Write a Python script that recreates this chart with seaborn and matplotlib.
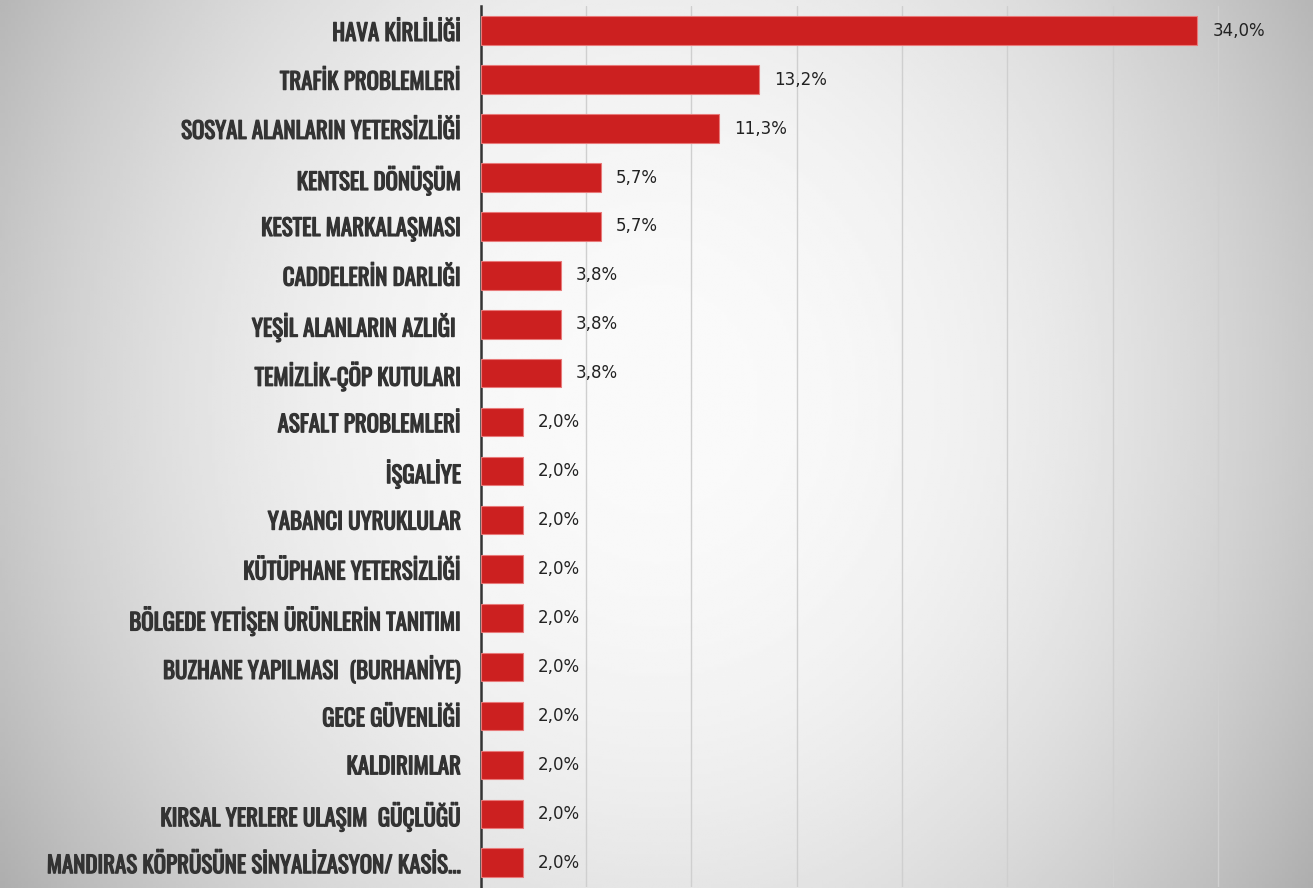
import matplotlib.pyplot as plt
import matplotlib.patheffects as pe
import numpy as np
import pandas as pd
import seaborn as sns

# data
sorunlar = [
    "HAVA KİRLİLİĞİ",
    "TRAFİK PROBLEMLERİ",
    "SOSYAL ALANLARIN YETERSİZLİĞİ",
    "KENTSEL DÖNÜŞÜM",
    "KESTEL MARKALAŞMASI",
    "CADDELERİN DARLIĞI",
    "YEŞİL ALANLARIN AZLIĞI ",
    "TEMİZLİK-ÇÖP KUTULARI",
    "ASFALT PROBLEMLERİ",
    "İŞGALİYE",
    "YABANCI UYRUKLULAR",
    "KÜTÜPHANE YETERSİZLİĞİ",
    "BÖLGEDE YETİŞEN ÜRÜNLERİN TANITIMI",
    "BUZHANE YAPILMASI  (BURHANİYE)",
    "GECE GÜVENLİĞİ",
    "KALDIRIMLAR",
    "KIRSAL YERLERE ULAŞIM  GÜÇLÜĞÜ",
    "MANDIRAS KÖPRÜSÜNE SİNYALİZASYON/ KASİS...",
]
oranlar = [34.0, 13.2, 11.3, 5.7, 5.7, 3.8, 3.8, 3.8,
           2.0, 2.0, 2.0, 2.0, 2.0, 2.0, 2.0, 2.0, 2.0, 2.0]

df = pd.DataFrame({"Sorun": sorunlar, "Oran": oranlar})

sns.set_theme(style="white")
# narrow font for the category names, with fallbacks
etiket_fontu = ["Oswald", "Antonio", "Roboto Condensed", "Archivo Narrow", "DejaVu Sans"]
plt.rcParams["font.family"] = ["DejaVu Sans"]

fig = plt.figure(figsize=(13.13, 8.88), dpi=100)

# soft grey radial background
bg = fig.add_axes([0, 0, 1, 1], zorder=-1)
xx, yy = np.meshgrid(np.linspace(-1, 1, 400), np.linspace(-1, 1, 300))
r = np.sqrt(xx ** 2 + ((yy + 0.1) * 0.6) ** 2)
bg.imshow(0.98 - 0.2 * np.clip(r, 0, 1.2) ** 2.2, cmap="gray", vmin=0, vmax=1,
          aspect="auto", extent=[0, 1, 0, 1])
bg.axis("off")

ax = fig.add_axes([0.366, 0.001, 0.634, 0.992])
ax.set_facecolor("none")

sns.barplot(data=df, x="Oran", y="Sorun", color="#cc2020", width=0.58,
            saturation=1, edgecolor="#e87a7a", linewidth=0.8, ax=ax, zorder=3)

ax.bar_label(ax.containers[0],
             labels=[f"{v:.1f}%".replace(".", ",") for v in oranlar],
             padding=11, fontsize=12, color="#222222")

ax.set_xlim(0, 39.5)
ax.set_ylim(17.5, -0.5)
ax.set_xticks(np.arange(5, 40, 5))
ax.set_xticklabels([])
ax.grid(axis="x", color="#cfcfcf", linewidth=1, zorder=0)
ax.tick_params(axis="y", length=0, pad=14)
ax.set_yticks(range(len(sorunlar)))
ax.set_yticklabels(sorunlar, family=etiket_fontu, fontsize=16.5,
                   fontweight="bold", color="#333333")
# thicken the narrow labels a little so they read as bold
for lab in ax.get_yticklabels():
    lab.set_path_effects([pe.withStroke(linewidth=0.9, foreground="#333333")])
ax.set_xlabel("")
ax.set_ylabel("")

for side in ["top", "right", "bottom"]:
    ax.spines[side].set_visible(False)
ax.spines["left"].set_color("#333333")
ax.spines["left"].set_linewidth(1.8)

fig.savefig("out.png", dpi=100)
